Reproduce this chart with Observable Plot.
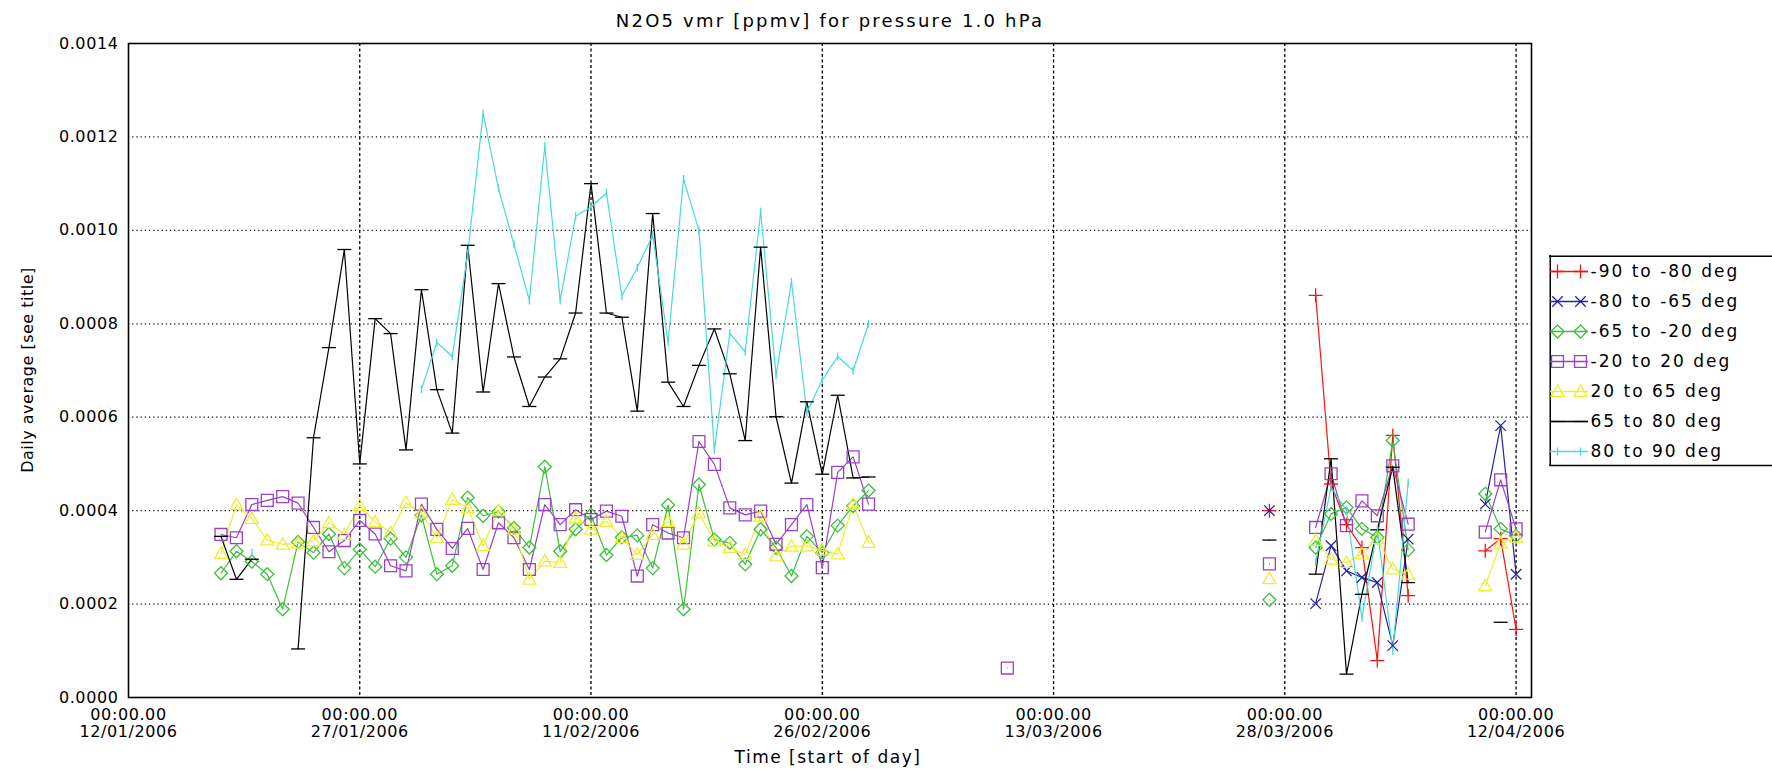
<!DOCTYPE html>
<html><head><meta charset="utf-8">
<script src="https://cdn.jsdelivr.net/npm/d3@7"></script>
<script src="https://cdn.jsdelivr.net/npm/@observablehq/plot@0.6"></script>
<style>
html,body{margin:0;padding:0;background:#fff;}
#wrap{position:relative;width:1772px;height:782px;overflow:hidden;font-family:"DejaVu Sans",sans-serif;color:#000;}
#title{position:absolute;left:0;width:1660px;top:10px;text-align:center;font-size:18px;letter-spacing:2.2px;}
#xlabel{position:absolute;left:0;width:1656px;top:747px;text-align:center;font-size:17px;letter-spacing:1.5px;}
#ylabel{position:absolute;left:-122px;top:360px;width:300px;height:20px;text-align:center;font-size:16px;letter-spacing:0.5px;transform:rotate(-90deg);}
#main{position:absolute;left:0;top:0;}
#legend{position:absolute;left:1549px;top:255px;}
#main svg text{letter-spacing:0.6px;}
#legend svg text{letter-spacing:2px;}
</style></head>
<body><div id="wrap">
<div id="main"></div>
<div id="legend"></div>
<div id="title">N2O5 vmr [ppmv] for pressure 1.0 hPa</div>
<div id="xlabel">Time [start of day]</div>
<div id="ylabel">Daily average [see title]</div>
</div>
<script>
// ---------- data ----------
const seriesNames = ["-90 to -80 deg","-80 to -65 deg","-65 to -20 deg","-20 to 20 deg","20 to 65 deg","65 to 80 deg","80 to 90 deg"];
const seriesColors = ["#ff1010","#2424a0","#3cc03c","#9a40c8","#eeee30","#000000","#48dada"];
const seriesSymbols = ["plus","times","diamond","square","triangle","dash","vbar"];

const dateTicks = ["2006-01-12","2006-01-27","2006-02-11","2006-02-26","2006-03-13","2006-03-28","2006-04-12"];
const yTicks = [0,0.0002,0.0004,0.0006,0.0008,0.0010,0.0012,0.0014];

// daily values 18/01/2006 .. 01/03/2006
const mainStart = "2006-01-18";
const mainGreen = [0.000266,0.000313,0.000291,0.000264,0.000189,0.000333,0.00031,0.00035,0.000277,0.000317,0.00028,0.00034,0.0003,0.00039,0.000264,0.000282,0.000428,0.000389,0.000398,0.000363,0.000321,0.000494,0.000313,0.00036,0.000391,0.000305,0.000343,0.000347,0.000277,0.000412,0.000189,0.000456,0.000338,0.000331,0.000285,0.00036,0.000321,0.00026,0.000345,0.00031,0.000368,0.00041,0.000443];
const mainPurple = [0.000349,0.000342,0.000413,0.000422,0.00043,0.000416,0.000364,0.000312,0.000336,0.000379,0.00035,0.000282,0.000271,0.000414,0.00036,0.000319,0.000362,0.000274,0.000374,0.000342,0.000274,0.000413,0.00037,0.000402,0.000381,0.000399,0.000388,0.00026,0.00037,0.000352,0.000342,0.000548,0.000499,0.000406,0.000391,0.000399,0.000328,0.00037,0.000413,0.000278,0.000482,0.000515,0.000414];
const mainYellow = [0.000308,0.000413,0.000383,0.000337,0.000328,0.00033,0.000335,0.000374,0.000349,0.000411,0.000376,0.000353,0.000417,0.000395,0.000342,0.000424,0.000406,0.000325,0.0004,0.00036,0.000253,0.000292,0.000289,0.000384,0.00036,0.000377,0.000342,0.000306,0.000349,0.000377,0.000328,0.000395,0.000335,0.000321,0.000306,0.000388,0.000303,0.000324,0.000324,0.000315,0.000307,0.000414,0.000332];
const mainBlack = [0.000345,0.000253,0.000296,null,null,0.000104,0.000556,0.000749,0.000959,0.0005,0.000811,0.000779,0.00053,0.000873,0.000659,0.000566,0.000968,0.000654,0.000886,0.000729,0.000623,0.000686,0.000725,0.000823,0.0011,0.000823,0.000814,0.000613,0.001036,0.000675,0.000623,0.000711,0.000789,0.000693,0.00055,0.000964,0.000601,0.000459,0.000633,0.000478,0.000647,0.00047,0.000472];
const mainCyan = [null,null,0.00031,null,null,null,null,null,null,null,null,null,null,0.00066,0.00076,0.00073,0.00095,0.00125,0.00109,0.00097,0.00085,0.00118,0.00085,0.00103,0.00105,0.00108,0.00086,0.00092,0.00099,0.00076,0.00111,0.001,0.00053,0.00078,0.00074,0.00104,0.00069,0.00089,0.00061,0.00068,0.00073,0.0007,0.0008];

// lone value 10/03/2006 (-20 to 20 deg)
const lonePurpleDate = "2006-03-10";
const lonePurpleValue = 0.000063;

// daily values 27/03/2006 .. 12/04/2006
const lateStart = "2006-03-27";
const lateRed    = [0.0004,null,null,0.000861,0.000457,0.00037,0.000321,0.000079,0.000561,0.000218,null,null,null,null,0.000314,0.00034,0.000146];
const lateBlue   = [0.0004,null,null,0.000201,0.000325,0.000271,0.000257,0.000246,0.000111,0.000339,null,null,null,null,0.000414,0.000582,0.000264];
const lateGreen  = [0.000209,null,null,0.000321,0.000393,0.000407,0.000361,0.000343,0.00055,0.000316,null,null,null,null,0.000436,0.000361,0.000346];
const latePurple = [0.000286,null,null,0.000364,0.000479,0.000368,0.000421,0.000389,0.000496,0.000371,null,null,null,null,0.000354,0.000466,0.000361];
const lateYellow = [0.000254,null,null,0.000336,0.000296,0.000289,0.000307,0.00034,0.000275,0.000264,null,null,null,null,0.000239,0.00033,0.000343];
const lateBlack  = [0.000337,null,null,0.000264,0.000511,0.00005,0.000221,0.000359,0.000493,0.000246,null,null,null,null,null,0.000161,null];
const lateCyan   = [null,null,null,0.00029,0.00045,0.0004,0.00017,0.00036,0.0001,0.00046,null,null,null,null,null,null,null];

// ---------- build rows ----------
const DAY = 864e5;
const rows = [];
function addRun(si, seg, startISO, values) {
  const t0 = Date.parse(startISO + "T00:00:00Z");
  values.forEach((v, i) => rows.push({s: si, seg: si + "-" + seg, date: new Date(t0 + i * DAY), value: v == null ? NaN : v}));
}
addRun(2, "a", mainStart, mainGreen);
addRun(3, "a", mainStart, mainPurple);
addRun(4, "a", mainStart, mainYellow);
addRun(5, "a", mainStart, mainBlack);
addRun(6, "a", mainStart, mainCyan);
addRun(3, "b", lonePurpleDate, [lonePurpleValue]);
addRun(0, "c", lateStart, lateRed);
addRun(1, "c", lateStart, lateBlue);
addRun(2, "c", lateStart, lateGreen);
addRun(3, "c", lateStart, latePurple);
addRun(4, "c", lateStart, lateYellow);
addRun(5, "c", lateStart, lateBlack);
addRun(6, "c", lateStart, lateCyan);

// ---------- symbols ----------
const R = s => Math.sqrt(s / Math.PI);
const SYM = {
  plus: {draw(c, s) { const r = R(s); c.moveTo(-r, 0); c.lineTo(r, 0); c.moveTo(0, -r); c.lineTo(0, r); }},
  times: {draw(c, s) { const r = R(s) * 0.75; c.moveTo(-r, -r); c.lineTo(r, r); c.moveTo(-r, r); c.lineTo(r, -r); }},
  diamond: {draw(c, s) { const r = R(s); c.moveTo(0, -r); c.lineTo(r, 0); c.lineTo(0, r); c.lineTo(-r, 0); c.closePath(); }},
  square: {draw(c, s) { const r = R(s) * 0.85; c.rect(-r, -r, 2 * r, 2 * r); }},
  triangle: {draw(c, s) { const r = R(s); c.moveTo(0, -r); c.lineTo(r, r * 0.75); c.lineTo(-r, r * 0.75); c.closePath(); }},
  dash: {draw(c, s) { const r = R(s); c.moveTo(-r, 0); c.lineTo(r, 0); }},
  vbar: {draw(c, s) { const r = R(s); c.moveTo(0, -r); c.lineTo(0, r); }}
};
const symR = {plus: 7, times: 7, diamond: 6.5, square: 7, triangle: 6.5, dash: 7, vbar: 4};

// ---------- main chart ----------
const fmtDate = d3.utcFormat("%d/%m/%Y");
const tickDates = dateTicks.map(s => new Date(s + "T00:00:00Z"));
const lineMarks = [], dotMarks = [];
seriesNames.forEach((name, si) => {
  const data = rows.filter(r => r.s === si);
  if (!data.length) return;
  lineMarks.push(Plot.line(data, {x: "date", y: "value", z: "seg", stroke: seriesColors[si], strokeWidth: 1.2}));
  const sy = seriesSymbols[si];
  dotMarks.push(Plot.dot(data, {x: "date", y: "value", symbol: SYM[sy], r: symR[sy], stroke: seriesColors[si], fill: "none", strokeWidth: 1.3}));
});

const chart = Plot.plot({
  width: 1772, height: 782,
  marginLeft: 128, marginRight: 241, marginTop: 43, marginBottom: 85,
  x: {type: "utc", domain: [new Date("2006-01-12T00:00:00Z"), new Date("2006-04-13T00:00:00Z")]},
  y: {domain: [0, 0.0014]},
  style: {fontFamily: "DejaVu Sans, sans-serif", fontSize: "16px", color: "#000", background: "#fff", overflow: "visible"},
  marks: [
    Plot.ruleY(yTicks.slice(1, -1), {stroke: "#000", strokeDasharray: "1.2,3", strokeWidth: 1.2, strokeOpacity: 1}),
    Plot.ruleX(tickDates.slice(1), {stroke: "#000", strokeDasharray: "3,2.5", strokeWidth: 1.3, strokeOpacity: 1}),
    ...lineMarks,
    ...dotMarks,
    Plot.frame({stroke: "#000", strokeWidth: 1.6}),
    Plot.axisY(yTicks, {tickSize: 0, tickPadding: 10, tickFormat: d => d.toFixed(4), label: null, fontSize: 16}),
    Plot.axisX(tickDates, {tickSize: 0, tickPadding: 10, tickFormat: d => "00:00.00\n" + fmtDate(d), label: null, fontSize: 16, lineHeight: 1.08})
  ]
});
document.getElementById("main").appendChild(chart);

// ---------- legend ----------
const legendRows = seriesNames.map((name, i) => ({i, name, y: 16 + i * 30}));
const legendMarks = [
  Plot.ruleY([0.75, 210], {x1: 0, x2: 223, stroke: "#000", strokeWidth: 1.5}),
  Plot.ruleX([0.75], {y1: 0, y2: 210, stroke: "#000", strokeWidth: 1.5})
];
legendRows.forEach(d => {
  const c = seriesColors[d.i], sy = seriesSymbols[d.i];
  legendMarks.push(Plot.ruleY([d.y], {x1: 1, x2: 39, stroke: c, strokeWidth: 1.3}));
  legendMarks.push(Plot.dot([{x: 8, y: d.y}, {x: 31, y: d.y}], {x: "x", y: "y", symbol: SYM[sy], r: symR[sy], stroke: c, fill: "none", strokeWidth: 1.3}));
});
legendMarks.push(Plot.text(legendRows, {x: 41, y: "y", text: "name", textAnchor: "start", fontSize: 17, fill: "#000"}));
const legend = Plot.plot({
  width: 223, height: 211, margin: 0,
  x: {domain: [0, 223], range: [0, 223], axis: null},
  y: {domain: [0, 211], range: [0, 211], axis: null},
  style: {fontFamily: "DejaVu Sans, sans-serif", background: "transparent", overflow: "visible"},
  marks: legendMarks
});
document.getElementById("legend").appendChild(legend);
</script>
</body></html>
